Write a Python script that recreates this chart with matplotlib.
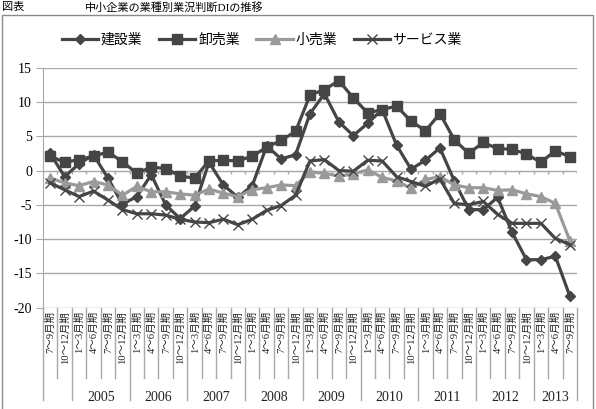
import matplotlib.pyplot as plt
from matplotlib.patches import Rectangle
import numpy as np

plt.rcParams['font.family'] = ['Liberation Serif', 'Noto Sans CJK JP', 'DejaVu Sans']

quarters = (["7～9月期", "10～12月期"]
            + ["1～3月期", "4～6月期", "7～9月期", "10～12月期"] * 8
            + ["1～3月期", "4～6月期", "7～9月期"])
years = ["2005", "2006", "2007", "2008", "2009", "2010", "2011", "2012", "2013"]
year_sizes = [4, 4, 4, 4, 4, 4, 4, 4, 3]

construction = [2.5, -0.9, 1.0, 2.3, -1.1, -4.9, -3.8, -0.6, -5.0, -7.0,
                 -5.2, 1.2, -2.1, -3.9, -2.2, 3.6, 1.7, 2.3, 8.3, 11.2,
                 7.1, 5.1, 6.9, 8.9, 3.7, 0.2, 1.5, 3.3, -1.5, -5.7,
                 -5.7, -3.9, -9.0, -13.0, -13.0, -12.5, -18.3]
wholesale = [2.1, 1.2, 1.6, 2.1, 2.7, 1.3, -0.4, 0.5, 0.3, -0.8,
             -1.1, 1.4, 1.5, 1.4, 2.1, 3.4, 4.4, 5.7, 11.0, 11.8,
             13.1, 10.6, 8.4, 8.9, 9.4, 7.2, 5.8, 8.3, 4.5, 2.5,
             4.1, 3.2, 3.1, 2.4, 1.2, 2.9, 2.0]
retail = [-1.1, -1.8, -2.2, -1.6, -2.1, -3.6, -2.3, -3.1, -3.1, -3.4,
          -3.6, -2.7, -3.3, -3.8, -2.8, -2.5, -2.1, -2.2, -0.2, -0.4,
          -0.8, -0.5, 0.1, -1.0, -1.5, -2.6, -1.3, -0.9, -2.1, -2.5,
          -2.5, -2.9, -2.8, -3.4, -3.8, -4.8, -10.2]
services = [-1.8, -2.8, -3.8, -3.0, -4.3, -5.7, -6.3, -6.3, -6.5, -7.1,
            -7.5, -7.6, -7.1, -7.9, -7.1, -5.8, -5.1, -3.6, 1.4, 1.6,
            0.0, -0.1, 1.5, 1.4, -0.9, -1.6, -2.3, -1.2, -4.8, -5.0,
            -4.5, -6.4, -7.7, -7.7, -7.7, -9.9, -10.8]

dark = '#454545'
light = '#9a9a9a'
grid_c = '#a8a8a8'

fig = plt.figure(figsize=(5.96, 4.09), dpi=100)
ax = fig.add_axes([43 / 596, 1 - 307.7 / 409, 534 / 596, 240 / 409])

x = np.arange(len(quarters))
ax.plot(x, construction, color=dark, lw=2.3, marker='D', ms=5.5, label='建設業')
ax.plot(x, wholesale, color=dark, lw=2.3, marker='s', ms=7.5, label='卸売業')
ax.plot(x, retail, color=light, lw=2.3, marker='^', ms=7.5, label='小売業')
ax.plot(x, services, color=dark, lw=2.3, marker='x', ms=7, mew=1.0, label='サービス業')

ax.set_xlim(-0.5, len(quarters) - 0.5)
ax.set_ylim(-20, 15)
ax.set_yticks(range(-20, 16, 5))
ax.set_yticklabels([str(v) for v in range(-20, 16, 5)], fontsize=10)
for v in range(-20, 16, 5):
    ax.axhline(v, color=grid_c, lw=1.0, zorder=0)
for s in ['top', 'right', 'bottom']:
    ax.spines[s].set_visible(False)
ax.spines['left'].set_color(grid_c)
ax.tick_params(axis='y', color=grid_c, length=5, pad=3)
ax.set_xticks([])

# small ticks on the zero line
ax.vlines(np.arange(len(quarters) + 1) - 0.5, -0.45, 0, color=grid_c, lw=1.0, zorder=0)

# category label area
xt = ax.get_xaxis_transform()
bounds = np.arange(len(quarters) + 1) - 0.5
year_bounds = [-0.5, 1.5]
for n in year_sizes:
    year_bounds.append(year_bounds[-1] + n)
for b in bounds:
    low = -0.385 if b in year_bounds else -0.293
    ax.plot([b, b], [0, low], transform=xt, color=grid_c, lw=1.0, clip_on=False)
for i, q in enumerate(quarters):
    ax.text(i, -0.015, q, transform=xt, rotation=90, ha='center', va='top',
            fontsize=7.6, color='#222222')
for k, yname in enumerate(years):
    mid = (year_bounds[k + 1] + year_bounds[k + 2]) / 2
    ax.text(mid, -0.375, yname, transform=xt, ha='center', va='center',
            fontsize=10, color='#222222')

fig.legend(loc='center', bbox_to_anchor=(262 / 596, 1 - 40 / 409), ncol=4,
           frameon=False, fontsize=10, handlelength=2.6, columnspacing=1.2,
           handletextpad=0.2)

# outer frame and title
fig.patches.append(Rectangle((2 / 596, -0.02), 591 / 596, 1 - 15 / 409 + 0.02,
                             transform=fig.transFigure, fill=False,
                             edgecolor='#8a8a8a', lw=1.0))
fig.text(2 / 596, 1 - 7 / 409, '図表', fontsize=8, va='center', ha='left')
fig.text(85 / 596, 1 - 7 / 409, '中小企業の業種別業況判断DIの推移', fontsize=8,
         va='center', ha='left')

fig.savefig('out.png', dpi=100)
